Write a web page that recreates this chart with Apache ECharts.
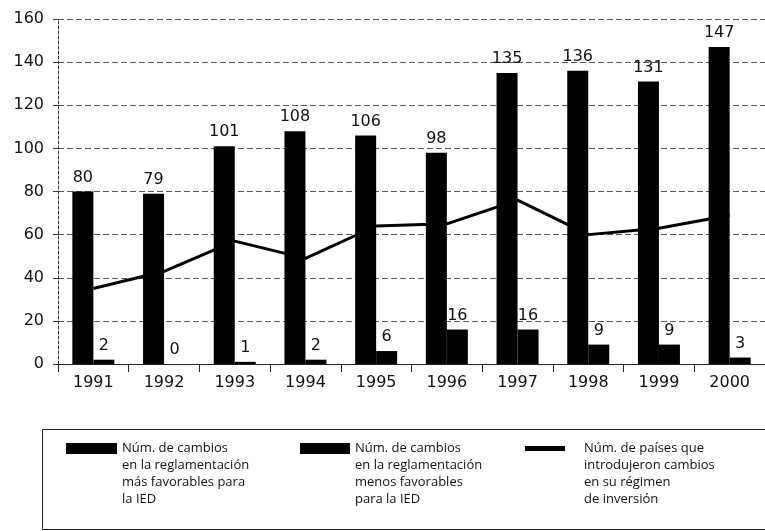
<!DOCTYPE html>
<html>
<head>
<meta charset="utf-8">
<script src="https://cdn.jsdelivr.net/npm/echarts@6/dist/echarts.min.js"></script>
<style>html,body{margin:0;padding:0;background:#fff}#c{width:765px;height:531px}</style>
</head>
<body>
<div id="c"></div>
<script>
var years = ['1991','1992','1993','1994','1995','1996','1997','1998','1999','2000'];
var masFavorables = [80, 79, 101, 108, 106, 98, 135, 136, 131, 147];
var menosFavorables = [2, 0, 1, 2, 6, 16, 16, 9, 9, 3];
var paises = [35, 43, 57, 49, 64, 65, 76, 60, 63, 69];
var yTicks = [0, 20, 40, 60, 80, 100, 120, 140, 160];

var name1 = 'Núm. de cambios\nen la reglamentación\nmás favorables para\nla IED';
var name2 = 'Núm. de cambios\nen la reglamentación\nmenos favorables\npara la IED';
var name3 = 'Núm. de países que\nintrodujeron cambios\nen su régimen\nde inversión';

var numFont = 'DejaVu Sans';
var legFont = 'Open Sans';
var LH = 17;

var chart = echarts.init(document.getElementById('c'), null, {renderer: 'canvas'});

// the block of lines is centred on the icon; three empty leading lines put the first line level with it
function topAligned(n) { return '\n\n\n' + n; }
var legendText = {fontFamily: legFont, fontSize: 13, lineHeight: LH, color: '#111'};
function legendTop(iconTop, iconH) { return iconTop + iconH / 2 - 3.5 * LH - 5; }

chart.setOption({
  animation: false,
  backgroundColor: '#fff',
  grid: {left: 58, right: -7, top: 19, bottom: 167, containLabel: false},
  xAxis: {
    type: 'category',
    data: years,
    axisLine: {lineStyle: {color: '#222', width: 1}},
    axisTick: {show: true, length: 8, lineStyle: {color: '#222'}},
    axisLabel: {fontFamily: numFont, fontSize: 16, color: '#111', margin: 11}
  },
  yAxis: {
    type: 'value',
    min: yTicks[0],
    max: yTicks[yTicks.length - 1],
    interval: 20,
    axisLine: {show: true, lineStyle: {color: '#333', type: [3, 2]}},
    axisTick: {show: true, length: 5, lineStyle: {color: '#333'}},
    axisLabel: {fontFamily: numFont, fontSize: 16, color: '#111', margin: 14},
    splitLine: {show: true, lineStyle: {color: '#555', width: 1, type: [6, 3]}}
  },
  legend: [
    {data: [name1], left: 61, top: legendTop(443, 11), icon: 'rect', itemWidth: 51, itemHeight: 11,
     formatter: topAligned, textStyle: legendText, selectedMode: false},
    {data: [name2], left: 295, top: legendTop(443, 11), icon: 'rect', itemWidth: 50, itemHeight: 11,
     formatter: topAligned, textStyle: legendText, selectedMode: false},
    {data: [name3], left: 520, top: legendTop(446, 5), itemWidth: 54, itemHeight: 5,
     icon: 'path://M0,0L40,0L40,5L0,5Z M54,5',
     formatter: topAligned, textStyle: legendText, selectedMode: false}
  ],
  graphic: [{
    type: 'rect', left: 40, top: 427, z: -1,
    shape: {width: 723, height: 100},
    style: {fill: 'none', stroke: '#222', lineWidth: 1}
  }],
  series: [
    {
      name: name1, type: 'bar', data: masFavorables, barWidth: 21, barGap: '0%', z: 3,
      itemStyle: {color: '#000'},
      label: {show: true, position: 'top', distance: 6, fontFamily: numFont, fontSize: 16, color: '#111'}
    },
    {
      name: name2, type: 'bar', data: menosFavorables, barWidth: 21, barGap: '0%', z: 3,
      itemStyle: {color: '#000'},
      label: {show: true, position: 'top', distance: 6, fontFamily: numFont, fontSize: 16, color: '#111'}
    },
    {
      name: name3, type: 'line', data: paises, z: 1, showSymbol: false, symbol: 'none',
      lineStyle: {color: '#000', width: 3}, itemStyle: {color: '#000'}
    }
  ]
});
</script>
</body>
</html>
